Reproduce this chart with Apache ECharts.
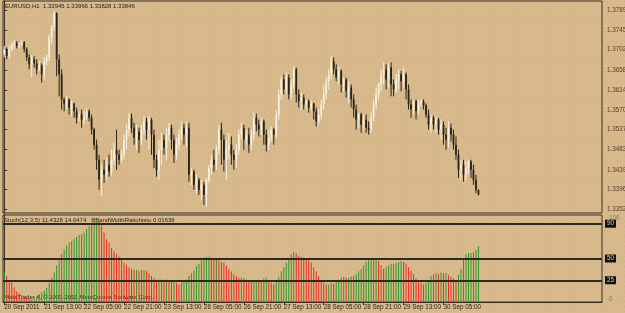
<!DOCTYPE html>
<html>
<head>
<meta charset="utf-8">
<script src="https://cdn.jsdelivr.net/npm/echarts@6/dist/echarts.min.js"></script>
<style>
html, body { margin: 0; padding: 0; background: #d7b98c; }
#chart { width: 625px; height: 313px; }
</style>
</head>
<body>
<div id="chart"></div>
<script>
// EURUSD,H1 bars, [open, close, low, high]
const bars = [
  [1.3692,1.3703,1.3685,1.3710],[1.3703,1.3688,1.3681,1.3707],[1.3688,1.3703,1.3683,1.3712],[1.3703,1.3712,1.3699,1.3718],
  [1.3712,1.3716,1.3703,1.3723],[1.3716,1.3710,1.3705,1.3721],[1.3710,1.3714,1.3705,1.3718],[1.3714,1.3718,1.3710,1.3723],
  [1.3718,1.3703,1.3696,1.3721],[1.3703,1.3685,1.3677,1.3707],[1.3685,1.3670,1.3659,1.3692],[1.3670,1.3681,1.3641,1.3690],
  [1.3681,1.3672,1.3663,1.3688],[1.3672,1.3659,1.3648,1.3681],[1.3659,1.3668,1.3655,1.3677],[1.3668,1.3648,1.3630,1.3672],
  [1.3648,1.3677,1.3637,1.3685],[1.3677,1.3685,1.3668,1.3692],[1.3685,1.3729,1.3677,1.3736],[1.3729,1.3751,1.3714,1.3756],
  [1.3751,1.3782,1.3743,1.3787],[1.3782,1.3681,1.3644,1.3784],[1.3681,1.3648,1.3600,1.3692],[1.3648,1.3593,1.3571,1.3659],
  [1.3593,1.3584,1.3567,1.3597],[1.3584,1.3593,1.3571,1.3600],[1.3593,1.3575,1.3560,1.3595],[1.3575,1.3584,1.3556,1.3591],
  [1.3584,1.3567,1.3553,1.3586],[1.3567,1.3553,1.3540,1.3575],[1.3553,1.3560,1.3545,1.3567],[1.3560,1.3549,1.3531,1.3571],
  [1.3549,1.3556,1.3538,1.3567],[1.3556,1.3567,1.3549,1.3573],[1.3567,1.3553,1.3545,1.3571],[1.3553,1.3527,1.3516,1.3560],
  [1.3527,1.3494,1.3483,1.3531],[1.3494,1.3461,1.3439,1.3505],[1.3461,1.3417,1.3395,1.3472],[1.3417,1.3439,1.3382,1.3450],
  [1.3439,1.3428,1.3410,1.3461],[1.3428,1.3450,1.3417,1.3465],[1.3450,1.3435,1.3424,1.3472],[1.3435,1.3461,1.3426,1.3483],
  [1.3461,1.3483,1.3450,1.3498],[1.3483,1.3472,1.3439,1.3527],[1.3472,1.3461,1.3450,1.3483],[1.3461,1.3472,1.3454,1.3483],
  [1.3472,1.3505,1.3461,1.3516],[1.3505,1.3527,1.3483,1.3538],[1.3527,1.3553,1.3512,1.3564],[1.3553,1.3531,1.3520,1.3562],
  [1.3531,1.3509,1.3494,1.3542],[1.3509,1.3523,1.3483,1.3538],[1.3523,1.3505,1.3476,1.3531],[1.3505,1.3527,1.3494,1.3538],
  [1.3527,1.3545,1.3516,1.3556],[1.3545,1.3527,1.3505,1.3553],[1.3527,1.3549,1.3483,1.3556],[1.3549,1.3516,1.3472,1.3553],
  [1.3516,1.3461,1.3443,1.3527],[1.3461,1.3439,1.3424,1.3472],[1.3439,1.3483,1.3417,1.3505],[1.3483,1.3505,1.3450,1.3520],
  [1.3505,1.3487,1.3472,1.3516],[1.3487,1.3516,1.3461,1.3531],[1.3516,1.3531,1.3501,1.3542],[1.3531,1.3505,1.3483,1.3538],
  [1.3505,1.3472,1.3454,1.3516],[1.3472,1.3494,1.3461,1.3509],[1.3494,1.3516,1.3483,1.3527],[1.3516,1.3531,1.3505,1.3545],
  [1.3531,1.3516,1.3494,1.3540],[1.3516,1.3531,1.3490,1.3545],[1.3531,1.3428,1.3413,1.3542],[1.3428,1.3435,1.3406,1.3443],
  [1.3435,1.3406,1.3395,1.3439],[1.3406,1.3417,1.3388,1.3428],[1.3417,1.3395,1.3384,1.3421],[1.3395,1.3406,1.3373,1.3417],
  [1.3406,1.3384,1.3362,1.3413],[1.3384,1.3417,1.3358,1.3421],[1.3417,1.3443,1.3410,1.3450],[1.3443,1.3461,1.3428,1.3472],
  [1.3461,1.3450,1.3435,1.3483],[1.3450,1.3483,1.3439,1.3494],[1.3483,1.3527,1.3472,1.3538],[1.3527,1.3505,1.3450,1.3542],
  [1.3505,1.3461,1.3435,1.3516],[1.3461,1.3483,1.3417,1.3505],[1.3483,1.3494,1.3461,1.3520],[1.3494,1.3472,1.3450,1.3512],
  [1.3472,1.3461,1.3439,1.3483],[1.3461,1.3483,1.3443,1.3494],[1.3483,1.3516,1.3472,1.3527],[1.3516,1.3531,1.3505,1.3542],
  [1.3531,1.3505,1.3483,1.3538],[1.3505,1.3516,1.3494,1.3527],[1.3516,1.3494,1.3476,1.3531],[1.3494,1.3516,1.3483,1.3527],
  [1.3516,1.3553,1.3505,1.3564],[1.3553,1.3538,1.3523,1.3562],[1.3538,1.3527,1.3512,1.3549],[1.3527,1.3545,1.3516,1.3553],
  [1.3545,1.3516,1.3494,1.3549],[1.3516,1.3494,1.3479,1.3527],[1.3494,1.3509,1.3483,1.3527],[1.3509,1.3527,1.3501,1.3534],
  [1.3527,1.3516,1.3494,1.3531],[1.3516,1.3560,1.3509,1.3571],[1.3560,1.3604,1.3549,1.3615],[1.3604,1.3637,1.3593,1.3644],
  [1.3637,1.3615,1.3604,1.3648],[1.3615,1.3641,1.3604,1.3652],[1.3641,1.3604,1.3593,1.3648],[1.3604,1.3626,1.3593,1.3637],
  [1.3626,1.3659,1.3615,1.3666],[1.3659,1.3604,1.3586,1.3663],[1.3604,1.3589,1.3575,1.3615],[1.3589,1.3597,1.3571,1.3608],
  [1.3597,1.3582,1.3571,1.3604],[1.3582,1.3589,1.3571,1.3593],[1.3589,1.3575,1.3564,1.3593],[1.3575,1.3584,1.3567,1.3591],
  [1.3584,1.3567,1.3549,1.3586],[1.3567,1.3545,1.3534,1.3575],[1.3545,1.3560,1.3538,1.3571],[1.3560,1.3582,1.3549,1.3593],
  [1.3582,1.3604,1.3571,1.3626],[1.3604,1.3633,1.3593,1.3641],[1.3633,1.3648,1.3615,1.3659],[1.3648,1.3677,1.3637,1.3688],
  [1.3677,1.3659,1.3648,1.3685],[1.3659,1.3641,1.3633,1.3670],[1.3641,1.3655,1.3626,1.3666],[1.3655,1.3626,1.3608,1.3659],
  [1.3626,1.3637,1.3611,1.3641],[1.3637,1.3611,1.3597,1.3641],[1.3611,1.3619,1.3586,1.3633],[1.3619,1.3593,1.3575,1.3626],
  [1.3593,1.3571,1.3553,1.3604],[1.3571,1.3549,1.3527,1.3582],[1.3549,1.3560,1.3531,1.3564],[1.3560,1.3538,1.3520,1.3564],
  [1.3538,1.3549,1.3527,1.3560],[1.3549,1.3531,1.3520,1.3560],[1.3531,1.3527,1.3516,1.3545],[1.3527,1.3553,1.3520,1.3564],
  [1.3553,1.3582,1.3545,1.3593],[1.3582,1.3604,1.3571,1.3619],[1.3604,1.3626,1.3593,1.3630],[1.3626,1.3648,1.3611,1.3659],
  [1.3648,1.3659,1.3626,1.3674],[1.3659,1.3637,1.3615,1.3670],[1.3637,1.3663,1.3619,1.3674],[1.3663,1.3626,1.3600,1.3674],
  [1.3626,1.3615,1.3600,1.3637],[1.3615,1.3637,1.3608,1.3648],[1.3637,1.3648,1.3615,1.3659],[1.3648,1.3633,1.3611,1.3655],
  [1.3633,1.3648,1.3619,1.3663],[1.3648,1.3615,1.3593,1.3652],[1.3615,1.3582,1.3571,1.3626],[1.3582,1.3571,1.3553,1.3593],
  [1.3571,1.3589,1.3560,1.3593],[1.3589,1.3567,1.3549,1.3593],[1.3567,1.3584,1.3560,1.3593],[1.3584,1.3589,1.3578,1.3593],
  [1.3589,1.3580,1.3571,1.3593],[1.3580,1.3560,1.3553,1.3584],[1.3560,1.3538,1.3527,1.3571],[1.3538,1.3553,1.3520,1.3560],
  [1.3553,1.3538,1.3527,1.3558],[1.3538,1.3549,1.3520,1.3556],[1.3549,1.3527,1.3516,1.3553],[1.3527,1.3538,1.3505,1.3549],
  [1.3538,1.3516,1.3494,1.3545],[1.3516,1.3505,1.3483,1.3531],[1.3505,1.3531,1.3487,1.3545],[1.3531,1.3516,1.3501,1.3540],
  [1.3516,1.3494,1.3483,1.3527],[1.3494,1.3472,1.3461,1.3512],[1.3472,1.3439,1.3421,1.3483],[1.3439,1.3450,1.3417,1.3461],
  [1.3450,1.3428,1.3413,1.3461],[1.3428,1.3443,1.3417,1.3457],[1.3443,1.3457,1.3428,1.3461],[1.3457,1.3439,1.3421,1.3461],
  [1.3439,1.3417,1.3406,1.3450],[1.3417,1.3395,1.3388,1.3428],[1.33945,1.33846,1.33828,1.33966]
];

// lower window histogram
const stoch = [
  35,30,25,22,17,12,10,8,6,5,4,3,4,6,9,11,13,16,22,28,
  34,42,48,55,60,65,68,70,72,75,77,78,80,84,87,90,93,95,94,88,
  80,72,68,62,58,55,52,48,45,43,40,38,37,37,36,37,37,36,33,30,
  28,26,26,26,25,26,25,24,25,22,20,22,24,26,30,33,36,41,44,48,
  51,52,52,51,50,50,48,46,45,42,38,35,32,30,28,28,27,26,25,24,
  24,25,24,25,27,28,25,22,21,24,29,35,40,45,50,55,58,56,53,52,
  51,50,48,45,40,35,30,25,22,20,20,22,21,24,26,28,29,28,28,29,
  30,32,35,38,42,46,48,48,48,48,47,42,38,40,42,44,44,45,46,47,
  46,44,40,36,32,27,24,22,20,22,25,30,32,33,32,34,33,33,31,29,
  27,25,31,38,50,55,56,56,57,60,64
];

const priceTicks = [1.37890, 1.37450, 1.37020, 1.36580, 1.36140, 1.35700, 1.35270, 1.34830, 1.34390, 1.33960, 1.33520];
const timeLabels = ['20 Sep 2011', '21 Sep 13:00', '22 Sep 05:00', '22 Sep 21:00', '23 Sep 13:00', '26 Sep 05:00',
  '26 Sep 21:00', '27 Sep 13:00', '28 Sep 05:00', '28 Sep 21:00', '29 Sep 13:00', '30 Sep 05:00'];
const levels = [90, 50, 25];

const barsPerLabel = 16;
const last = bars[bars.length - 1];
const frame = '#3a3026';
const font = '"Liberation Sans", Arial, sans-serif';

// dotted paper look of the chart background
const tile = document.createElement('canvas');
tile.width = 7; tile.height = 5;
const tctx = tile.getContext('2d');
tctx.fillStyle = '#d7b98c';
tctx.fillRect(0, 0, 7, 5);
tctx.fillStyle = '#cbb084';
tctx.fillRect(1, 1, 1, 1);
tctx.fillRect(5, 3, 1, 1);

const chart = echarts.init(document.getElementById('chart'));

const xCommon = {
  type: 'value', min: -0.5, max: 239.5,
  splitLine: { show: false }
};
const tickPos = timeLabels.map((t, k) => k * barsPerLabel);

chart.setOption({
  animation: false,
  backgroundColor: { image: tile, repeat: 'repeat' },
  grid: [
    { left: 3, right: 23, top: 1, height: 212, show: true, borderColor: frame, borderWidth: 1,
      backgroundColor: 'transparent', outerBoundsMode: 'none' },
    { left: 3, right: 23, top: 215, height: 87, show: true, borderColor: frame, borderWidth: 1,
      backgroundColor: 'transparent', outerBoundsMode: 'none' }
  ],
  xAxis: [
    Object.assign({ gridIndex: 0, show: false }, xCommon),
    Object.assign({
      gridIndex: 1,
      axisLine: { show: true, lineStyle: { color: frame } },
      axisTick: { show: true, length: 3, lineStyle: { color: frame }, customValues: tickPos },
      axisLabel: {
        customValues: tickPos,
        formatter: v => timeLabels[Math.round(v / barsPerLabel)] || '',
        align: 'left', margin: 2, fontSize: 6.3, color: '#2e2418', fontFamily: font,
        showMinLabel: true, hideOverlap: false
      }
    }, xCommon)
  ],
  yAxis: [
    {
      gridIndex: 0, type: 'value', position: 'right',
      min: 1.33444, max: 1.38086,
      splitLine: { show: false },
      axisLine: { show: true, lineStyle: { color: frame } },
      axisTick: { show: true, length: 3, customValues: priceTicks, lineStyle: { color: frame } },
      axisLabel: {
        customValues: priceTicks, formatter: v => v.toFixed(5),
        margin: 5, fontSize: 6.3, color: '#5a3a2a', fontFamily: font
      }
    },
    {
      gridIndex: 1, type: 'value', position: 'right',
      min: 0, max: 100,
      splitLine: { show: false },
      axisLine: { show: true, lineStyle: { color: frame } },
      axisTick: { show: false },
      axisLabel: {
        customValues: [0, 100], margin: 7, fontSize: 6.3, color: '#6f806a', fontFamily: font,
        showMinLabel: true, showMaxLabel: true,
        verticalAlignMinLabel: 'bottom', verticalAlignMaxLabel: 'top'
      }
    }
  ],
  graphic: [
    {
      type: 'text', left: 5, top: 3,
      style: {
        text: 'EURUSD,H1  ' + [last[0], last[3], last[2], last[1]].map(v => v.toFixed(5)).join(' '),
        font: '6px ' + font, fill: '#2a2218'
      }
    },
    {
      type: 'text', left: 4, top: 217,
      style: { text: 'Stoch(12,3,5) 11.4328 14.6474   BBandWidthRatiohisto 0.01636', font: '6px ' + font, fill: '#2a2218' }
    },
    {
      type: 'text', left: 4, top: 294,
      style: { text: 'MetaTrader 4, \u00a9 2001-2011 MetaQuotes Software Corp.', font: '6px ' + font, fill: '#2a2218' }
    }
  ],
  series: [
    {
      type: 'custom',
      xAxisIndex: 0, yAxisIndex: 0,
      data: bars.map((b, i) => [i, b[0], b[1], b[2], b[3]]),
      encode: { x: 0, y: [1, 2, 3, 4] },
      renderItem: (params, api) => {
        const i = api.value(0);
        const o = api.coord([i, api.value(1)]);
        const c = api.coord([i, api.value(2)]);
        const l = api.coord([i, api.value(3)]);
        const h = api.coord([i, api.value(4)]);
        const col = api.value(2) >= api.value(1) ? '#f7efde' : '#2a2318';
        return {
          type: 'group',
          children: [
            { type: 'line', shape: { x1: h[0], y1: h[1], x2: l[0], y2: l[1] }, style: { stroke: col, lineWidth: 1 } },
            {
              type: 'rect',
              shape: { x: o[0] - 0.9, y: Math.min(o[1], c[1]), width: 1.8, height: Math.max(1, Math.abs(o[1] - c[1])) },
              style: { fill: col }
            }
          ]
        };
      },
      markLine: {
        silent: true, symbol: 'none',
        lineStyle: { opacity: 0 },
        data: [{ yAxis: last[1] }],
        label: {
          position: 'end', distance: 3, formatter: last[1].toFixed(5),
          backgroundColor: '#000', color: '#fff', padding: [1, 2], fontSize: 6.3, fontFamily: font
        }
      }
    },
    {
      type: 'bar',
      xAxisIndex: 1, yAxisIndex: 1,
      barWidth: 1,
      data: stoch.map((v, i) => [i, v]),
      itemStyle: {
        color: p => (p.dataIndex === 0 || stoch[p.dataIndex] >= stoch[p.dataIndex - 1]) ? '#2f9a25' : '#f22a1c'
      },
      markLine: {
        silent: true, symbol: 'none',
        lineStyle: { color: '#2c2824', width: 2, type: 'solid' },
        data: levels.map(v => ({ yAxis: v })),
        label: {
          position: 'end', distance: 3, formatter: '{c}',
          backgroundColor: '#111', color: '#cfcfcf', padding: [1, 2], fontSize: 6.3, fontFamily: font
        }
      }
    }
  ]
});
</script>
</body>
</html>
